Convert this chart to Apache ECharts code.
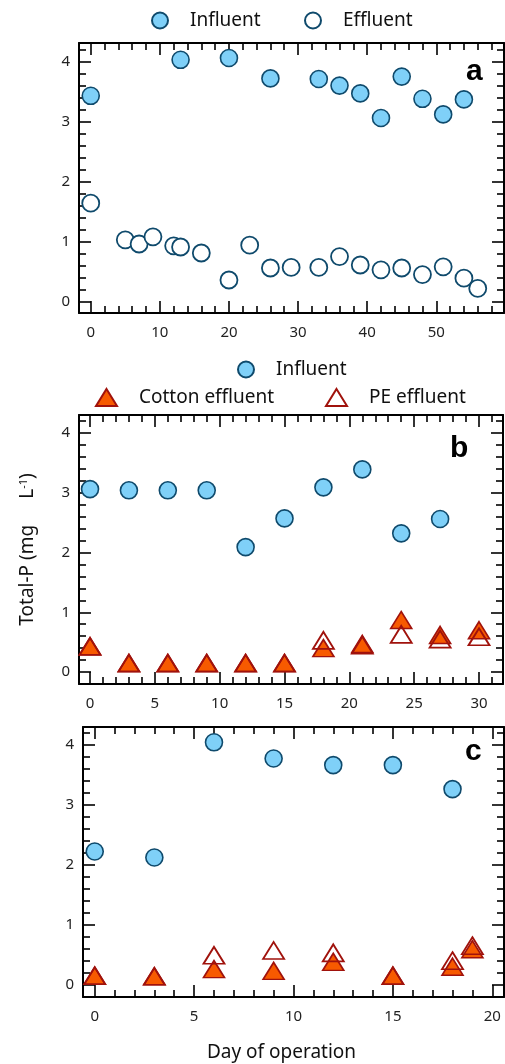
<!DOCTYPE html>
<html>
<head>
<meta charset="utf-8">
<script src="https://cdn.jsdelivr.net/npm/echarts@6/dist/echarts.min.js"></script>
<style>
  html, body { margin: 0; padding: 0; background: #fff; }
  #chart { width: 505px; height: 1064px; }
</style>
</head>
<body>
<div id="chart"></div>
<script>
// panel a
var daysA_in = [0, 13, 20, 26, 33, 36, 39, 42, 45, 48, 51, 54];
var infA = [3.44, 4.04, 4.07, 3.73, 3.72, 3.61, 3.48, 3.07, 3.76, 3.39, 3.13, 3.38];
var daysA_out = [0, 5, 7, 9, 12, 13, 16, 20, 23, 26, 29, 33, 36, 39, 42, 45, 48, 51, 54, 56];
var effA = [1.65, 1.04, 0.97, 1.09, 0.94, 0.92, 0.82, 0.37, 0.95, 0.57, 0.58, 0.58, 0.76, 0.62, 0.54, 0.57, 0.46, 0.59, 0.40, 0.23];
// panel b
var daysB_in = [0, 3, 6, 9, 12, 15, 18, 21, 24, 27];
var infB = [3.06, 3.04, 3.04, 3.04, 2.09, 2.57, 3.09, 3.39, 2.32, 2.56];
var daysB_out = [0, 3, 6, 9, 12, 15, 18, 21, 24, 27, 30];
var cottonB = [0.43, 0.15, 0.15, 0.15, 0.15, 0.15, 0.40, 0.47, 0.87, 0.62, 0.70];
var peB = [0.43, 0.15, 0.15, 0.15, 0.15, 0.15, 0.53, 0.45, 0.63, 0.55, 0.59];
// panel c
var daysC_in = [0, 3, 6, 9, 12, 15, 18];
var infC = [2.22, 2.12, 4.04, 3.77, 3.66, 3.66, 3.26];
var daysC_out = [0, 3, 6, 9, 12, 15, 18, 19];
var cottonC = [0.15, 0.14, 0.26, 0.23, 0.38, 0.15, 0.30, 0.59];
var peC = [0.15, 0.14, 0.49, 0.57, 0.53, 0.15, 0.40, 0.65];
// ticks
var yMajor = [0, 1, 2, 3, 4];
var yMinor = [0.2, 0.4, 0.6, 0.8, 1.2, 1.4, 1.6, 1.8, 2.2, 2.4, 2.6, 2.8, 3.2, 3.4, 3.6, 3.8, 4.2];
var xMajorA = [0, 10, 20, 30, 40, 50];
var xMinorA = [2, 4, 6, 8, 12, 14, 16, 18, 22, 24, 26, 28, 32, 34, 36, 38, 42, 44, 46, 48, 52, 54, 56, 58];
var xMajorB = [0, 5, 10, 15, 20, 25, 30];
var xMinorB = [1, 2, 3, 4, 6, 7, 8, 9, 11, 12, 13, 14, 16, 17, 18, 19, 21, 22, 23, 24, 26, 27, 28, 29, 31];
var xMajorC = [0, 5, 10, 15, 20];
var xMinorC = [1, 2, 3, 4, 6, 7, 8, 9, 11, 12, 13, 14, 16, 17, 18, 19];

var FONT = 'Noto Sans';
var BLUE = '#7fd0f8', NAVY = '#0f4a6c', ORANGE = '#f75a00', DRED = '#a0120c';

var panels = [
  { grid: { left: 79, top: 43, width: 425, height: 270 }, x: [-1.7, 59.8], y: [-0.18, 4.32], xMaj: xMajorA, xMin: xMinorA },
  { grid: { left: 79, top: 415, width: 424, height: 269 }, x: [-0.85, 31.85], y: [-0.2, 4.3], xMaj: xMajorB, xMin: xMinorB },
  { grid: { left: 83, top: 727, width: 421, height: 270 }, x: [-0.59, 20.59], y: [-0.205, 4.295], xMaj: xMajorC, xMin: xMinorC }
];

var grids = [], xAxes = [], yAxes = [], dataAxis = [];

function axis(gi, pos, range, ticks, len, line, extra) {
  return Object.assign({
    type: 'value', gridIndex: gi, position: pos, min: range[0], max: range[1],
    splitLine: { show: false },
    axisLine: { show: line, onZero: false, lineStyle: { color: '#000', width: 2 } },
    axisTick: { show: true, inside: true, length: len, customValues: ticks, lineStyle: { color: '#000', width: 1.6 } },
    axisLabel: { show: false }
  }, extra || {});
}

var tickLabel = function (vals, margin) {
  return { show: true, customValues: vals, margin: margin, color: '#222', fontSize: 15, fontFamily: FONT };
};

panels.forEach(function (p, i) {
  var gMaj = grids.length;
  grids.push(p.grid);
  var gMin = grids.length;
  grids.push(p.grid);

  var xExtra = { axisLabel: tickLabel(p.xMaj, 12) };
  if (i === 2) {
    xExtra.name = 'Day of operation';
    xExtra.nameLocation = 'middle';
    xExtra.nameGap = 46;
    xExtra.nameTextStyle = { fontFamily: FONT, fontSize: 19, color: '#111', padding: [0, 24, 0, 0] };
  }
  var yExtra = { axisLabel: tickLabel(yMajor, 9) };
  if (i === 1) {
    yExtra.name = 'Total-P (mg{gap|}L{sup|-1})';
    yExtra.nameLocation = 'middle';
    yExtra.nameGap = 42;
    yExtra.nameRotate = 90;
    yExtra.nameTextStyle = {
      fontFamily: FONT, fontSize: 19, color: '#111',
      rich: {
        gap: { width: 26 },
        sup: { fontFamily: FONT, fontSize: 11, color: '#111', verticalAlign: 'top', padding: [0, 0, 8, 0] }
      }
    };
  }

  dataAxis.push({ x: xAxes.length, y: yAxes.length });
  xAxes.push(axis(gMaj, 'bottom', p.x, p.xMaj, 12, true, xExtra));
  xAxes.push(axis(gMaj, 'top', p.x, p.xMaj, 12, true));
  xAxes.push(axis(gMin, 'bottom', p.x, p.xMin, 7, false));
  xAxes.push(axis(gMin, 'top', p.x, p.xMin, 7, false));
  yAxes.push(axis(gMaj, 'left', p.y, yMajor, 12, true, yExtra));
  yAxes.push(axis(gMaj, 'right', p.y, yMajor, 12, true));
  yAxes.push(axis(gMin, 'left', p.y, yMinor, 7, false));
  yAxes.push(axis(gMin, 'right', p.y, yMinor, 7, false));
});

function pts(xs, ys) {
  return xs.map(function (x, i) { return [x, ys[i]]; });
}

var influentStyle = { color: BLUE, borderColor: NAVY, borderWidth: 1.6, opacity: 1 };
var effluentStyle = { color: '#fff', borderColor: NAVY, borderWidth: 1.8, opacity: 1 };
var cottonStyle = { color: ORANGE, borderColor: DRED, borderWidth: 1.6, opacity: 1 };
var peStyle = { color: 'rgba(255,255,255,0)', borderColor: DRED, borderWidth: 1.8, opacity: 1 };

function sc(name, i, data, symbol, size, style, z) {
  return {
    name: name, type: 'scatter', xAxisIndex: dataAxis[i].x, yAxisIndex: dataAxis[i].y,
    symbol: symbol, symbolSize: size, itemStyle: style, z: z || 2,
    data: data, emphasis: { disabled: true }
  };
}

var CIRC = 17, TRI = [21, 17];
var series = [
  sc('Effluent', 0, pts(daysA_out, effA), 'circle', CIRC, effluentStyle),
  sc('Influent', 0, pts(daysA_in, infA), 'circle', CIRC, influentStyle),
  sc('Influent', 1, pts(daysB_in, infB), 'circle', CIRC, influentStyle),
  sc('Cotton effluent', 1, pts(daysB_out, cottonB), 'triangle', TRI, cottonStyle, 3),
  sc('PE effluent', 1, pts(daysB_out, peB), 'triangle', TRI, peStyle, 4),
  sc('Influent', 2, pts(daysC_in, infC), 'circle', CIRC, influentStyle),
  sc('Cotton effluent', 2, pts(daysC_out, cottonC), 'triangle', TRI, cottonStyle, 3),
  sc('PE effluent', 2, pts(daysC_out, peC), 'triangle', TRI, peStyle, 4)
];

function leg(name, left, top, w, h) {
  return {
    data: [name], left: left, top: top, itemWidth: w, itemHeight: h,
    symbolKeepAspect: false, selectedMode: false, padding: 0,
    textStyle: { fontFamily: FONT, fontSize: 19, color: '#111', padding: [0, 0, 0, 17] }
  };
}

var chart = echarts.init(document.getElementById('chart'));
chart.setOption({
  backgroundColor: '#fff',
  animation: false,
  grid: grids,
  xAxis: xAxes,
  yAxis: yAxes,
  legend: [
    leg('Influent', 151, 11, 16, 16),
    leg('Effluent', 304, 11, 16, 16),
    leg('Influent', 237, 360, 16, 16),
    leg('Cotton effluent', 95, 388, 21, 17),
    leg('PE effluent', 325, 388, 21, 17)
  ],
  graphic: [
    { type: 'text', left: 466, top: 57, style: { text: 'a', font: 'bold 30px "Liberation Sans"', fill: '#000' } },
    { type: 'text', left: 450, top: 434, style: { text: 'b', font: 'bold 30px "Liberation Sans"', fill: '#000' } },
    { type: 'text', left: 465, top: 737, style: { text: 'c', font: 'bold 30px "Liberation Sans"', fill: '#000' } }
  ],
  series: series
});
</script>
</body>
</html>
